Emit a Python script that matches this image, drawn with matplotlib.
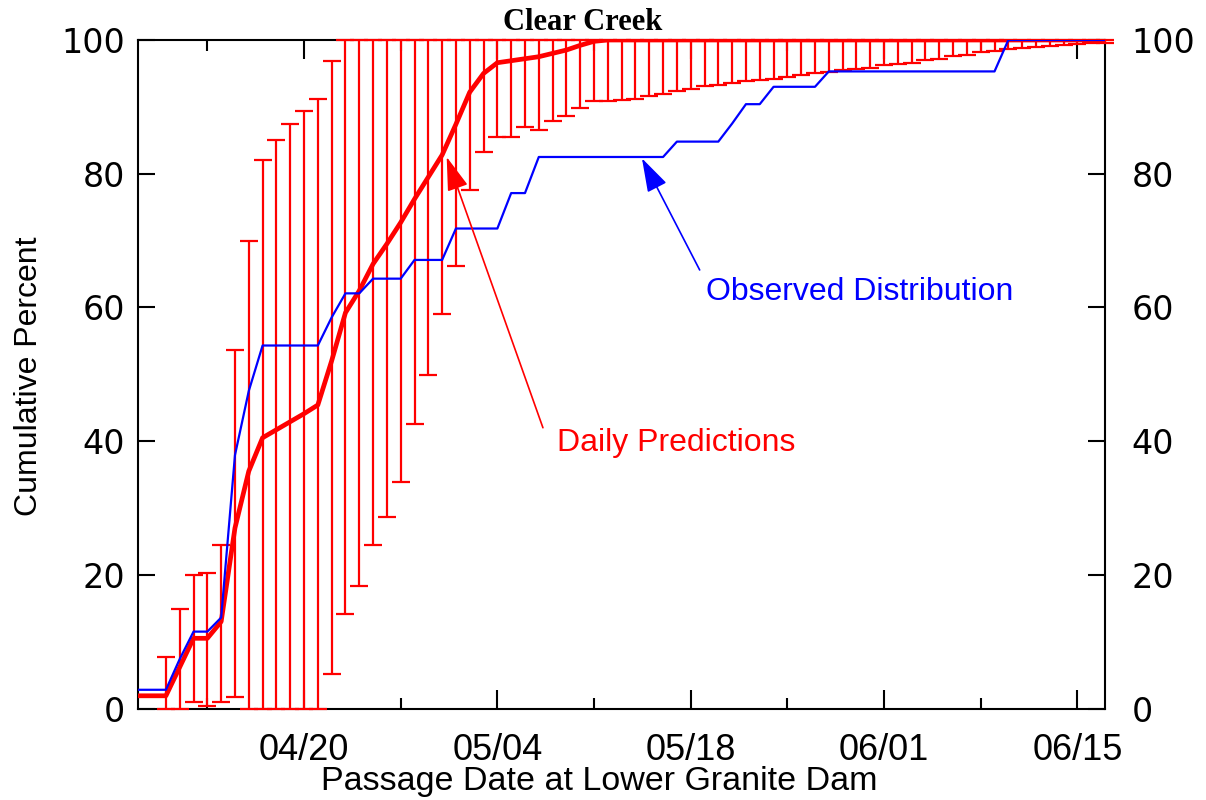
import numpy as np
import pandas as pd
import matplotlib
matplotlib.use('Agg')
import matplotlib.pyplot as plt
import matplotlib.dates as mdates
from matplotlib.ticker import FixedLocator

# --- data ---
# daily values from Apr 08 to Jun 17
DAY_START = '2009-04-08'
DAY_END = '2009-06-17'

observed_pct = [
    2.8, 2.8, 2.8, 7.4, 11.5, 11.5, 13.6, 37.9, 47.5, 54.3,
    54.3, 54.3, 54.3, 54.3, 58.5, 62.1, 62.1, 64.3, 64.3, 64.3,
    67.1, 67.1, 67.1, 71.8, 71.8, 71.8, 71.8, 77.1, 77.1, 82.5,
    82.5, 82.5, 82.5, 82.5, 82.5, 82.5, 82.5, 82.5, 82.5, 84.8,
    84.8, 84.8, 84.8, 87.5, 90.4, 90.4, 93.0, 93.0, 93.0, 93.0,
    95.3, 95.3, 95.3, 95.3, 95.3, 95.3, 95.3, 95.3, 95.3, 95.3,
    95.3, 95.3, 95.3, 100, 100, 100, 100, 100, 100, 100, 100,
]

predicted_pct = [
    1.9, 1.9, 1.9, 6.2, 10.5, 10.5, 13.0, 27.0, 35.5, 40.5,
    41.7, 42.9, 44.1, 45.4, 52.0, 59.2, 62.5, 66.5, 69.5, 72.7,
    76.2, 79.5, 82.8, 87.4, 92.2, 95.0, 96.6, 96.9, 97.2, 97.5,
    98.0, 98.5, 99.2, 99.8, 100, 100, 100, 100, 100, 100,
    100, 100, 100, 100, 100, 100, 100, 100, 100, 100,
    100, 100, 100, 100, 100, 100, 100, 100, 100, 100,
    100, 100, 100, 100, 100, 100, 100, 100, 100, 100, 100,
]

# prediction ranges, one per day from Apr 10 to Jun 17
BAR_START = '2009-04-10'
pred_low = [
    0, 0, 0.9, 0.3, 0.9, 1.7, 0, 0, 0, 0,
    0, 0, 5.1, 14.2, 18.3, 24.4, 28.6, 33.9, 42.6, 49.9,
    59.0, 66.2, 77.5, 83.3, 85.5, 85.5, 87.0, 86.6, 87.9, 88.6,
    89.8, 90.9, 90.9, 91.0, 91.2, 91.6, 91.9, 92.3, 92.7, 93.1,
    93.3, 93.6, 93.8, 94.0, 94.2, 94.5, 94.7, 95.0, 95.2, 95.5,
    95.6, 95.8, 96.2, 96.4, 96.6, 97.0, 97.2, 97.6, 97.8, 98.2,
    98.4, 98.7, 98.8, 99.0, 99.1, 99.3, 99.4, 99.5, 99.6,
]
pred_high = [
    7.7, 14.9, 19.9, 20.2, 24.4, 53.6, 70.0, 82.1, 85.1, 87.4,
    89.4, 91.2, 96.9,
] + [100] * 56

days = pd.date_range(DAY_START, DAY_END, freq='D')
bar_days = pd.date_range(BAR_START, DAY_END, freq='D')
low = np.array(pred_low)
high = np.array(pred_high)

RED = '#ff0000'
BLUE = '#0000ff'

fig = plt.figure(figsize=(12.06, 8.0), dpi=100)
ax = fig.add_axes([138.3 / 1206, 1 - 708.5 / 800, 966.7 / 1206, 668.5 / 800])

# daily prediction ranges
ax.errorbar(bar_days, low, yerr=[np.zeros_like(low), high - low], fmt='none',
            ecolor=RED, elinewidth=1.6, capsize=6.5, capthick=1.6,
            zorder=3, clip_on=False)
ax.plot(days, predicted_pct, color=RED, lw=3.4, zorder=4)
ax.plot(days, observed_pct, color=BLUE, lw=1.6, zorder=5)

# annotations
ax.annotate('', xy=(mdates.date2num(pd.Timestamp('2009-05-14')) + 0.47, 82.3),
            xytext=(mdates.date2num(pd.Timestamp('2009-05-18')) + 0.65, 65.6),
            arrowprops=dict(arrowstyle='-|>,head_length=1.05,head_width=0.33',
                            mutation_scale=20, color=BLUE, lw=1.2,
                            shrinkA=0, shrinkB=0), zorder=6)
ax.text(mdates.date2num(pd.Timestamp('2009-05-19')) + 0.11, 61.1,
        'Observed Distribution', color=BLUE, fontsize=23,
        family='Liberation Sans', ha='left', va='baseline')

ax.annotate('', xy=(mdates.date2num(pd.Timestamp('2009-04-30')) + 0.33, 82.5),
            xytext=(mdates.date2num(pd.Timestamp('2009-05-07')) + 0.3, 42.0),
            arrowprops=dict(arrowstyle='-|>,head_length=1.05,head_width=0.33',
                            mutation_scale=20, color=RED, lw=1.2,
                            shrinkA=0, shrinkB=0), zorder=6)
ax.text(mdates.date2num(pd.Timestamp('2009-05-08')) + 0.32, 38.5,
        'Daily Predictions', color=RED, fontsize=23,
        family='Liberation Sans', ha='left', va='baseline')

# axes
ax.set_xlim(pd.Timestamp(DAY_START), pd.Timestamp(DAY_END))
ax.set_ylim(0, 100)

major_days = pd.date_range('2009-04-20', '2009-06-15', freq='14D')
minor_days = pd.date_range('2009-04-13', '2009-06-08', freq='14D')
ax.xaxis.set_major_locator(FixedLocator(mdates.date2num(major_days)))
ax.xaxis.set_minor_locator(FixedLocator(mdates.date2num(minor_days)))
ax.xaxis.set_major_formatter(mdates.DateFormatter('%m/%d'))
ax.set_yticks([0, 20, 40, 60, 80, 100])

for s in ax.spines.values():
    s.set_linewidth(1.5)

ax.tick_params(axis='x', which='major', direction='in', length=13.5, width=1.5,
               top=True, pad=18)
ax.tick_params(axis='x', which='minor', direction='in', length=8, width=1.5,
               top=True)
ax.tick_params(axis='y', which='major', direction='in', length=12, width=1.5,
               right=True, labelright=True, pad=9.6)

for lab in ax.get_xticklabels():
    lab.set_family(['Liberation Sans Narrow', 'Liberation Sans'])
    lab.set_fontsize(26)
for lab in ax.get_yticklabels():
    lab.set_family('DejaVu Sans')
    lab.set_fontsize(24)
for t in ax.yaxis.get_major_ticks():
    t.label2.set_family('DejaVu Sans')
    t.label2.set_fontsize(24)
    t.set_pad(9.6)
ax.yaxis.set_tick_params(which='major', pad=9.6)
for t in ax.yaxis.get_major_ticks():
    t.label2.set_x(1.0)
# push right-hand labels further out
import matplotlib.transforms as mtransforms
offset = mtransforms.ScaledTranslation(13.5 / 100, 0, fig.dpi_scale_trans)
for t in ax.yaxis.get_major_ticks():
    t.label2.set_transform(t.label2.get_transform() + offset)

# labels and title
fig.text(599 / 1206, 1 - 790 / 800, 'Passage Date at Lower Granite Dam',
         fontsize=24.5, family='Liberation Sans', ha='center', va='baseline')
fig.text(37 / 1206, 1 - 376 / 800, 'Cumulative Percent', fontsize=23,
         family='Liberation Sans', rotation=90, rotation_mode='anchor',
         ha='center', va='baseline')
fig.text(583 / 1206, 1 - 30 / 800, 'Clear Creek', fontsize=22,
         family='Liberation Serif', weight='bold', ha='center', va='baseline')

fig.savefig('out.png', dpi=100)
